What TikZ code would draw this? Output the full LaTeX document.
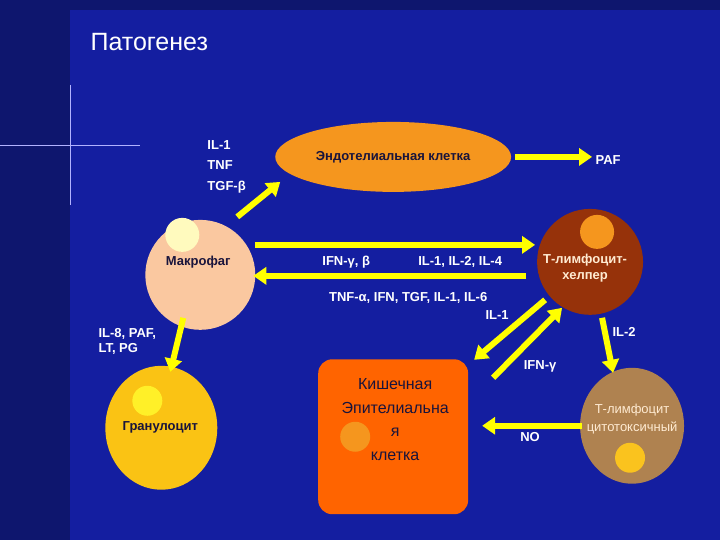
\documentclass[tikz,border=0pt]{standalone}
\usepackage{fontspec}
\setmainfont{Liberation Sans}
\usetikzlibrary{arrows.meta,shapes.geometric}
\definecolor{bg}{RGB}{20,30,160}
\definecolor{bgl}{RGB}{14,22,110}
\definecolor{ylw}{RGB}{255,255,0}
\definecolor{dk}{RGB}{25,20,60}
\definecolor{cendo}{RGB}{245,150,30}
\definecolor{cmac}{RGB}{250,200,160}
\definecolor{hmac}{RGB}{255,250,190}
\definecolor{cth}{RGB}{150,50,10}
\definecolor{hth}{RGB}{245,150,30}
\definecolor{lt}{RGB}{255,235,210}
\definecolor{cgr}{RGB}{250,195,20}
\definecolor{hgr}{RGB}{255,240,40}
\definecolor{cep}{RGB}{255,100,0}
\definecolor{ctc}{RGB}{175,130,80}
\definecolor{htc}{RGB}{250,195,30}
\tikzset{x=1pt,y=-1pt,
 arr/.style={draw=ylw,line width=6pt,-{Triangle[width=17pt,length=13pt]}},
 lab/.style={text=white,font=\bfseries\fontsize{13}{15}\selectfont,inner sep=0pt,align=left},
 dtext/.style={text=dk,font=\bfseries\fontsize{13}{16}\selectfont,align=center,inner sep=0pt}}
\begin{document}
\begin{tikzpicture}
\fill[bg] (0,0) rectangle (720,540);
\fill[bgl] (0,0) rectangle (70,540);
\fill[bgl] (0,0) rectangle (720,10);
\draw[white!70!blue,line width=0.8pt] (0,145) -- (140,145) (70,85) -- (70,205);
\node[lab,anchor=west,font=\fontsize{25}{28}\selectfont] (title) at (90,42) {Патогенез};
% endothelial
\node[ellipse,fill=cendo,minimum width=236pt,minimum height=70pt,dtext] (endo) at (393,157) {Эндотелиальная клетка};
\node[lab] (paf) at (608,160) {PAF};
% macrophage
\node[circle,fill=cmac,minimum size=110pt] (mac) at (200,275) {};
\fill[hmac] (182,235) circle (17);
\node[dtext] (mact) at (198,262) {Макрофаг};
\node[lab,anchor=west] (l1) at (207,145) {IL-1};
\node[lab,anchor=west] (l2) at (207,165) {TNF};
\node[lab,anchor=west] (l3) at (207,187) {TGF-β};
% T helper
\node[circle,fill=cth,minimum size=106pt] (th) at (590,262) {};
\fill[hth] (597,232) circle (17);
\node[dtext,text=lt] (tht) at (585,268) {Т-лимфоцит-\\хелпер};
% granulocyte
\node[ellipse,fill=cgr,minimum width=112pt,minimum height=124pt] (gran) at (161,428) {};
\fill[hgr] (147,401) circle (15);
\node[dtext] (grant) at (160,428) {Гранулоцит};
% epithelial
\node[rounded corners=14pt,fill=cep,minimum width=150pt,minimum height=155pt] (epi) at (393,437) {};
\fill[hth] (355,437) circle (15);
\node[dtext,font=\fontsize{16}{23.5}\selectfont] (epit) at (395,420) {Кишечная\\Эпителиальна\\я\\клетка};
% T cytotoxic
\node[ellipse,fill=ctc,minimum width=104pt,minimum height=116pt] (tc) at (632,426) {};
\fill[htc] (630,458) circle (15);
\node[dtext,text=lt,font=\fontsize{13}{18}\selectfont] (tct) at (632,419) {Т-лимфоцит\\цитотоксичный};
% arrows
\coordinate (a1s) at (237,217); \coordinate (a1e) at (280,182);
\draw[arr] (a1s) -- (a1e);
\coordinate (a2s) at (515,157); \coordinate (a2e) at (592,157);
\draw[arr] (a2s) -- (a2e);
\coordinate (a3s) at (255,245); \coordinate (a3e) at (535,245);
\draw[arr] (a3s) -- (a3e);
\coordinate (a4s) at (526,276); \coordinate (a4e) at (253,276);
\draw[arr] (a4s) -- (a4e);
\coordinate (a5s) at (545,300); \coordinate (a5e) at (474,360);
\draw[arr] (a5s) -- (a5e);
\coordinate (a6s) at (493,378); \coordinate (a6e) at (562,308);
\draw[arr] (a6s) -- (a6e);
\coordinate (a7s) at (602,318); \coordinate (a7e) at (613,373);
\draw[arr] (a7s) -- (a7e);
\coordinate (a8s) at (183,318); \coordinate (a8e) at (170,372);
\draw[arr] (a8s) -- (a8e);
\coordinate (a9s) at (582,426); \coordinate (a9e) at (482,426);
\draw[arr] (a9s) -- (a9e);
% labels
\node[lab] (m1) at (346,262) {IFN-γ, β};
\node[lab] (m2) at (460,262) {IL-1, IL-2, IL-4};
\node[lab] (m3) at (408,298) {TNF-α, IFN, TGF, IL-1, IL-6};
\node[lab] (m4) at (497,315) {IL-1};
\node[lab] (m5) at (540,367) {IFN-γ};
\node[lab] (m6) at (624,332) {IL-2};
\node[lab,anchor=west] (m7) at (98,342) {IL-8, PAF,\\LT, PG};
\node[lab] (m8) at (530,437) {NO};
\end{tikzpicture}
\end{document}
